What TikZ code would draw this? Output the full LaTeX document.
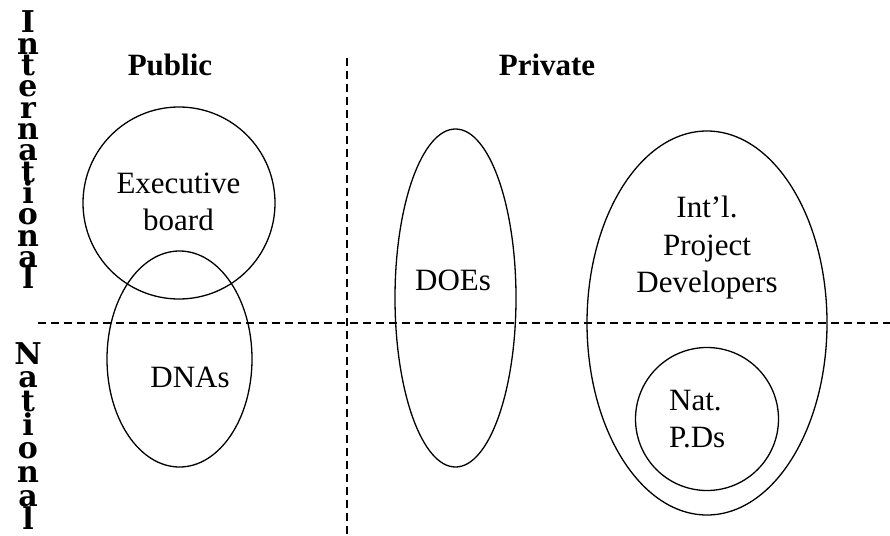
\documentclass[tikz,border=0pt]{standalone}
\usepackage{fontspec}
\setmainfont{Liberation Serif}
\newfontfamily\vletfont{DejaVu Serif}
\usetikzlibrary{shapes.geometric}
\tikzset{
  shapeline/.style={draw, line width=1.3pt, inner sep=0pt},
  oval/.style={shapeline, ellipse},
  ring/.style={shapeline, circle},
  divider/.style={line width=1.3pt, dash pattern=on 8pt off 5pt},
  lbl/.style={font=\fontsize{31}{37}\selectfont, anchor=base, inner sep=0pt},
  head/.style={font=\fontsize{31}{37}\selectfont\bfseries, anchor=base, inner sep=0pt},
  vlet/.style={font=\fontsize{30}{30}\selectfont\vletfont\bfseries, anchor=base, inner sep=0pt},
}
\begin{document}
\begin{tikzpicture}[x=1pt, y=-1pt]
\useasboundingbox (0,0) rectangle (890,535);
% dividers
\coordinate (hl) at (38,323);
\coordinate (hr) at (890,323);
\coordinate (vt) at (347,58);
\coordinate (vb) at (347,535);
\draw[divider] (hl) -- (hr);
\draw[divider] (vt) -- (vb);
% headings
\node[head] (public) at (170,75) {Public};
\node[head] (private) at (547,75) {Private};
% shapes
\node[ring, minimum size=192pt] (exec) at (179,203) {};
\node[oval, minimum width=145pt, minimum height=216pt] (dna) at (179.5,359) {};
\node[oval, minimum width=121pt, minimum height=338pt] (doe) at (455.5,298) {};
\node[oval, minimum width=240pt, minimum height=384pt] (ipd) at (707,323) {};
\node[ring, minimum size=143pt] (npd) at (707,419) {};
% labels
\node[lbl] (exec1) at (178.5,193) {Executive};
\node[lbl] (exec2) at (178.5,230) {board};
\node[lbl] (dnat) at (190,387) {DNAs};
\node[lbl] (doet) at (453,290) {DOEs};
\node[lbl] (ipd1) at (707,217) {Int’l.};
\node[lbl] (ipd2) at (707,255) {Project};
\node[lbl] (ipd3) at (707,292) {Developers};
\node[lbl, anchor=base west] (npd1) at (669,410) {Nat.};
\node[lbl, anchor=base west] (npd2) at (669,447) {P.Ds};
% vertical words
\foreach \l [count=\i] in {I,n,t,e,r,n,a,t,i,o,n,a,l}
  \node[vlet] (intl\i) at (28,{33+21.3*(\i-1)}) {\l};
\foreach \l [count=\i] in {N,a,t,i,o,n,a,l}
  \node[vlet] (natl\i) at (28,{364+23.7*(\i-1)}) {\l};
\end{tikzpicture}
\end{document}
